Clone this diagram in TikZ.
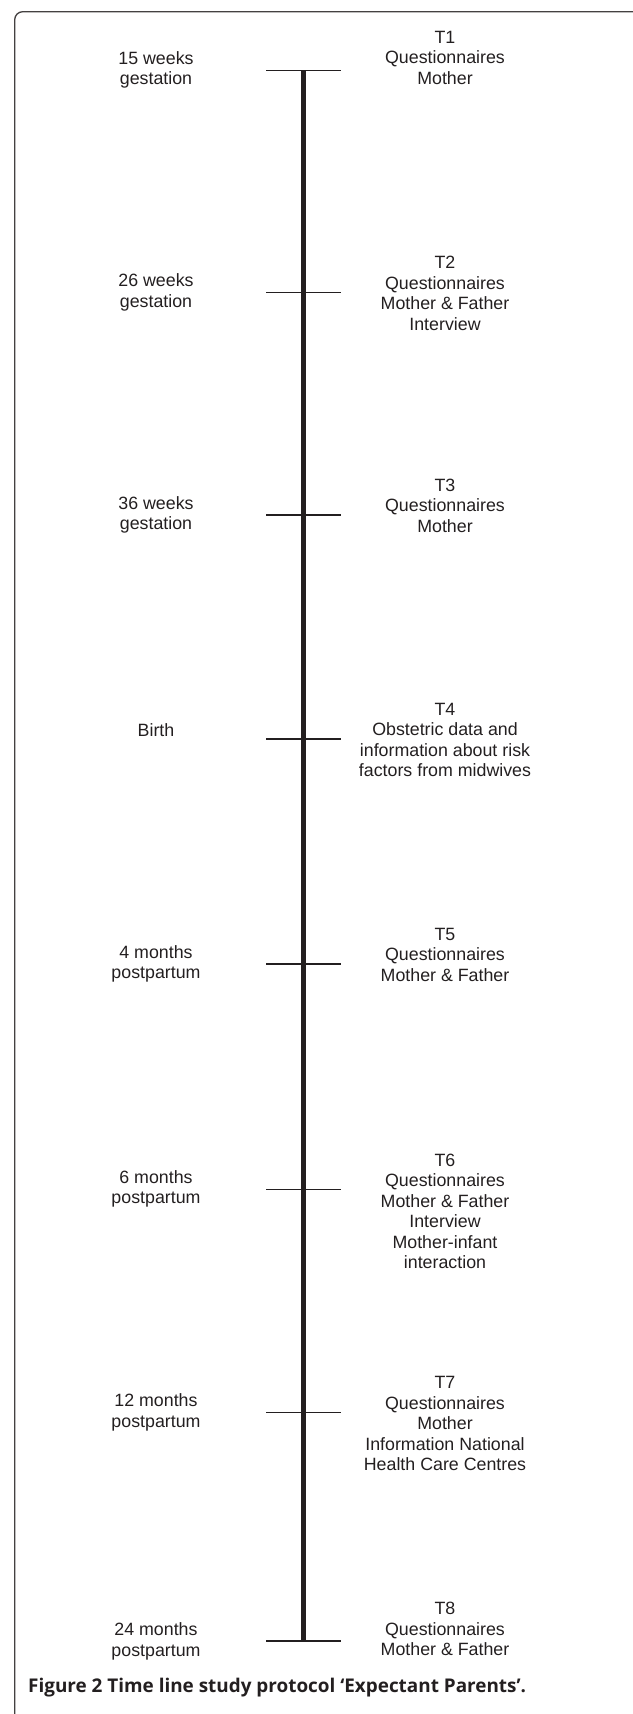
\documentclass[tikz,border=0pt]{standalone}
\usepackage{fontspec}
\setmainfont{Liberation Sans}
\newfontfamily\capfont{Open Sans}
\definecolor{ink}{HTML}{231F20}
\begin{document}
\begin{tikzpicture}[x=1bp,y=-1bp,
  lbl/.style={align=center,font=\fontsize{17.8bp}{20.5bp}\selectfont,text=ink,inner sep=0pt,anchor=base},
  tickline/.style={line width=1.3bp,draw=ink},
  spine/.style={line width=5.5bp,draw=ink},
  frameline/.style={line width=1.3bp,draw=ink!85,rounded corners=8bp},
  captext/.style={font=\capfont\bfseries\fontsize{18.9bp}{22bp}\selectfont,text=ink,inner sep=0pt,anchor=base west}]
\useasboundingbox (0,0) rectangle (633,1714);
\clip (0,0) rectangle (633,1714);
\draw[frameline] (14.7,1730) -- (14.7,11.7) -- (642,11.7) -- (642,1730);
% tick positions
\foreach \n/\y in {1/70.7,2/292.7,3/515,4/739,5/964,6/1189.3,7/1412.7,8/1641}{
  \coordinate (c\n) at (303.3,\y);
  \coordinate (a\n) at (266,\y);
  \coordinate (b\n) at (340.7,\y);
}
\draw[spine] (c1) -- (c8);
\foreach \n in {1,...,8}{\draw[tickline] (a\n) -- (b\n);}
% left labels (anchor = baseline of last line)
\node[lbl] (l1) at (156,84.8) {15 weeks\\gestation};
\node[lbl] (l2) at (156,307.2) {26 weeks\\gestation};
\node[lbl] (l3) at (156,529.5) {36 weeks\\gestation};
\node[lbl] (l4) at (156,736.7) {Birth};
\node[lbl] (l5) at (156,978.5) {4 months\\postpartum};
\node[lbl] (l6) at (156,1203.8) {6 months\\postpartum};
\node[lbl] (l7) at (156,1427.2) {12 months\\postpartum};
\node[lbl] (l8) at (156,1656.2) {24 months\\postpartum};
% right labels
\node[lbl] (r1) at (445,84.3) {T1\\Questionnaires\\Mother};
\node[lbl] (r2) at (445,330.2) {T2\\Questionnaires\\Mother \& Father\\Interview};
\node[lbl] (r3) at (445,532) {T3\\Questionnaires\\Mother};
\node[lbl] (r4) at (445,776.5) {T4\\Obstetric data and\\information about risk\\factors from midwives};
\node[lbl] (r5) at (445,981) {T5\\Questionnaires\\Mother \& Father};
\node[lbl] (r6) at (445,1268.5) {T6\\Questionnaires\\Mother \& Father\\Interview\\Mother-infant\\interaction};
\node[lbl] (r7) at (445,1470.5) {T7\\Questionnaires\\Mother\\Information National\\Health Care Centres};
\node[lbl] (r8) at (445,1655.5) {T8\\Questionnaires\\Mother \& Father};
% caption
\node[captext] (cap) at (28,1692) {Figure 2 Time line study protocol ‘Expectant Parents’.};
\end{tikzpicture}
\end{document}
